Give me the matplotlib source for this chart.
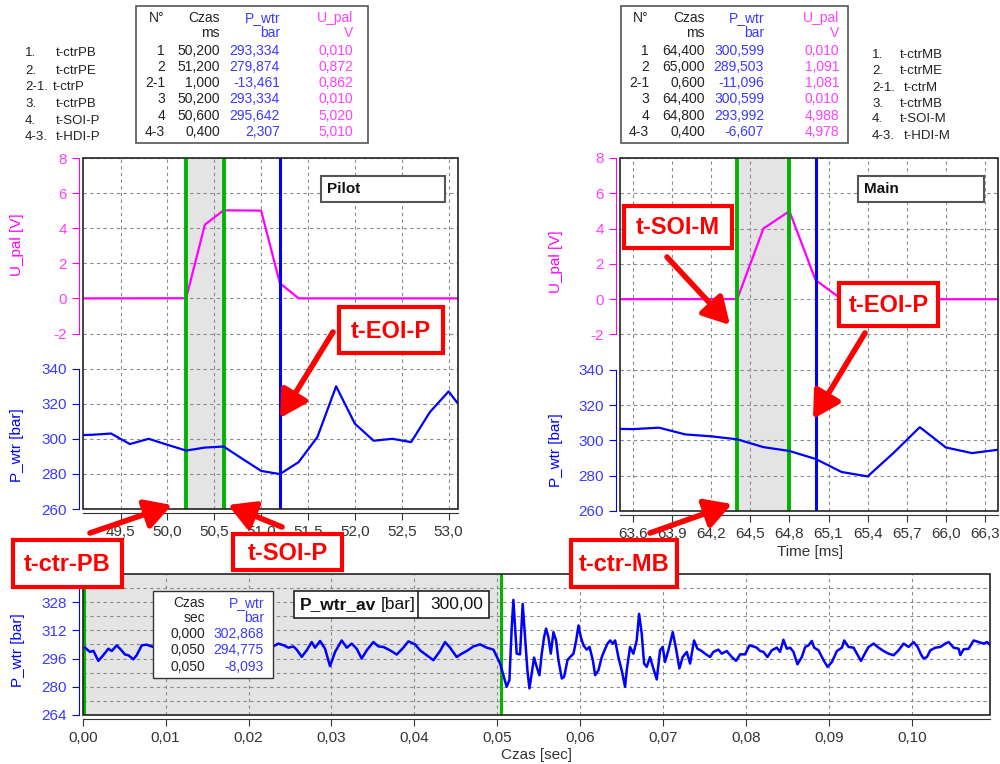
import matplotlib
matplotlib.use("Agg")
import matplotlib.pyplot as plt
from matplotlib.patches import Rectangle, FancyArrowPatch

plt.rcParams['font.family'] = ['Liberation Sans', 'DejaVu Sans']
plt.rcParams['axes.unicode_minus'] = False

# --- dane: Pilot ---
p_time_u = [49.1, 50.2, 50.4, 50.6, 51.0, 51.2, 51.4, 53.1]
p_u = [0.0, 0.01, 4.2, 5.02, 5.0, 0.87, 0.0, 0.0]
p_time_p = [49.0, 49.2, 49.4, 49.6, 49.8, 50.0, 50.2, 50.4, 50.6, 50.8, 51.0,
            51.2, 51.4, 51.6, 51.8, 52.0, 52.2, 52.4, 52.6, 52.8, 53.0, 53.2]
p_p = [302.0, 302.3, 303.0, 297.0, 300.0, 296.6, 293.3, 295.0, 295.6, 288.6, 281.7,
       279.9, 286.7, 301.0, 329.9, 308.6, 298.9, 300.0, 298.1, 315.2, 327.0, 313.0]
p_green = [50.2, 50.6]
p_blue = 51.2
p_xticks = [49.5, 50.0, 50.5, 51.0, 51.5, 52.0, 52.5, 53.0]

# --- dane: Main ---
m_time_u = [63.5, 64.4, 64.6, 64.8, 65.0, 65.2, 66.4]
m_u = [0.0, 0.01, 4.0, 4.99, 1.09, 0.0, 0.0]
m_time_p = [63.4, 63.6, 63.8, 64.0, 64.2, 64.4, 64.6, 64.8, 65.0, 65.2, 65.4,
            65.6, 65.8, 66.0, 66.2, 66.4]
m_p = [306.6, 306.4, 307.2, 303.4, 302.3, 300.6, 296.2, 294.0, 289.5, 282.1, 279.6,
       293.0, 307.5, 296.0, 292.8, 294.7]
m_green = [64.4, 64.8]
m_blue = 65.0
m_xticks = [63.6, 63.9, 64.2, 64.5, 64.8, 65.1, 65.4, 65.7, 66.0, 66.3]

# --- dane: przebieg cisnienia (sec, bar) ---
c_time = [0.00028, 0.00088, 0.00129, 0.00189, 0.00249, 0.00310, 0.00350, 0.00410,
          0.00450, 0.00511, 0.00551, 0.00611, 0.00651, 0.00712, 0.00772, 0.00832,
          0.0100, 0.0130, 0.0160, 0.0190, 0.0215,
          0.02300, 0.02360, 0.02421, 0.02481, 0.02541, 0.02581, 0.02642, 0.02702,
          0.02762, 0.02803, 0.02863, 0.02923, 0.02983, 0.03044, 0.03124, 0.03185,
          0.03245, 0.03305, 0.03365, 0.03426, 0.03506, 0.03566, 0.03627, 0.03707,
          0.03788, 0.03868, 0.03928, 0.04009, 0.04069, 0.04150, 0.04230, 0.04310,
          0.04371, 0.04431, 0.04511, 0.04572, 0.04632, 0.04712, 0.04793, 0.04873,
          0.04954, 0.05014,
          0.05034, 0.05074, 0.05114, 0.05147, 0.05175, 0.05195, 0.05215, 0.05235,
          0.05275, 0.05307, 0.05336, 0.05364, 0.05388, 0.05416, 0.05444, 0.05476,
          0.05509, 0.05537, 0.05565, 0.05589, 0.05617, 0.05646, 0.05678, 0.05710,
          0.05738, 0.05779, 0.05807, 0.05847, 0.05879, 0.05920, 0.05952, 0.05980,
          0.06008, 0.06040, 0.06080, 0.06113, 0.06153, 0.06181, 0.06221, 0.06261,
          0.06302, 0.06330, 0.06362, 0.06394, 0.06422, 0.06461, 0.06501, 0.06542,
          0.06562, 0.06602, 0.06642, 0.06682, 0.06711, 0.06743, 0.06771, 0.06803,
          0.06843, 0.06883, 0.06924, 0.06964, 0.06996, 0.07024, 0.07064, 0.07117,
          0.07157, 0.07197, 0.07237, 0.07286, 0.07326, 0.07374, 0.07414, 0.07454,
          0.07507, 0.07567, 0.07607, 0.07668, 0.07708, 0.07768, 0.07829, 0.07881,
          0.07929, 0.07989, 0.08042, 0.08090, 0.08130, 0.08171, 0.08211, 0.08259,
          0.08311, 0.08372, 0.08412, 0.08452, 0.08493, 0.08533, 0.08573, 0.08621,
          0.08674, 0.08714, 0.08754, 0.08794, 0.08823, 0.08875, 0.08936, 0.08984,
          0.09037, 0.09097, 0.09157, 0.09185, 0.09238, 0.09298, 0.09338, 0.09387,
          0.09439, 0.09479, 0.09540, 0.09600, 0.09660, 0.09721, 0.09781, 0.09841,
          0.09902, 0.09962, 0.10022, 0.10071, 0.10111, 0.10143, 0.10183, 0.10224,
          0.10284, 0.10344, 0.10404, 0.10445, 0.10505, 0.10565, 0.10586, 0.10626,
          0.10686, 0.10746, 0.10807, 0.10867, 0.10907, 0.10947]
c_p = [302.2, 299.8, 300.4, 294.7, 298.0, 301.6, 300.3, 303.5,
       301.6, 298.3, 297.9, 295.6, 297.9, 303.5, 303.9, 302.9,
       300.5, 302.0, 299.0, 302.5, 300.0,
       303.0, 304.5, 303.6, 302.2, 302.9, 301.1, 297.0, 300.7,
       305.4, 302.2, 306.0, 301.6, 291.7, 299.8, 306.3, 302.2,
       304.5, 301.6, 296.0, 300.7, 305.4, 302.9, 302.6, 300.7,
       298.3, 302.2, 305.8, 304.1, 300.7, 297.9, 295.1, 300.3,
       305.4, 302.2, 296.9, 298.8, 300.3, 302.9, 304.1, 302.2,
       301.1, 295.1,
       293.2, 286.6, 280.0, 283.8, 313.9, 329.3, 313.9, 298.8,
       298.4, 327.0, 308.2, 289.4, 279.1, 287.5, 296.6, 291.3,
       286.6, 298.8, 308.2, 313.0, 308.2, 298.8, 311.0, 306.3,
       295.1, 284.7, 285.7, 295.1, 296.9, 298.8, 306.3, 314.8,
       308.2, 303.5, 301.1, 302.6, 295.1, 286.6, 289.4, 296.9,
       301.6, 304.5, 306.3, 304.5, 306.3, 296.9, 289.4, 280.0,
       289.4, 302.6, 298.8, 306.3, 321.4, 310.1, 293.2, 291.3,
       296.9, 290.4, 284.2, 300.7, 302.6, 294.1, 300.7, 311.0,
       301.6, 290.4, 296.9, 299.8, 293.2, 306.3, 301.6, 300.7,
       298.8, 296.9, 299.8, 301.1, 298.8, 300.3, 296.9, 294.7,
       298.4, 298.4, 303.5, 302.9, 302.2, 300.3, 299.8, 296.9,
       300.7, 302.2, 299.8, 306.7, 301.6, 302.2, 299.8, 292.8,
       296.9, 302.6, 303.5, 306.0, 302.2, 300.7, 295.1, 291.3,
       294.1, 300.3, 302.2, 306.3, 302.6, 302.2, 298.8, 294.7,
       299.3, 302.6, 304.5, 302.2, 300.3, 298.8, 297.9, 300.7,
       304.5, 302.6, 305.4, 302.6, 298.4, 296.0, 296.9, 300.7,
       302.2, 302.6, 304.5, 305.4, 302.2, 301.6, 298.0, 301.3,
       301.6, 306.3, 305.4, 304.5, 305.4, 303.6]
c_green = [0.0002, 0.0505]
c_xticks = [0.00, 0.01, 0.02, 0.03, 0.04, 0.05, 0.06, 0.07, 0.08, 0.09, 0.10]
c_yticks = [264, 280, 296, 312, 328]

# --- tabele ---
tab_pilot = [["N°", "Czas", "P_wtr", "U_pal"], ["", "ms", "bar", "V"],
             ["1", "50,200", "293,334", "0,010"], ["2", "51,200", "279,874", "0,872"],
             ["2-1", "1,000", "-13,461", "0,862"], ["3", "50,200", "293,334", "0,010"],
             ["4", "50,600", "295,642", "5,020"], ["4-3", "0,400", "2,307", "5,010"]]
tab_main = [["N°", "Czas", "P_wtr", "U_pal"], ["", "ms", "bar", "V"],
            ["1", "64,400", "300,599", "0,010"], ["2", "65,000", "289,503", "1,091"],
            ["2-1", "0,600", "-11,096", "1,081"], ["3", "64,400", "300,599", "0,010"],
            ["4", "64,800", "293,992", "4,988"], ["4-3", "0,400", "-6,607", "4,978"]]
leg_pilot = [("1.", "t-ctrPB"), ("2.", "t-ctrPE"), ("2-1.", "t-ctrP"),
             ("3.", "t-ctrPB"), ("4.", "t-SOI-P"), ("4-3.", "t-HDI-P")]
leg_main = [("1.", "t-ctrMB"), ("2.", "t-ctrME"), ("2-1.", "t-ctrM"),
            ("3.", "t-ctrMB"), ("4.", "t-SOI-M"), ("4-3.", "t-HDI-M")]
tab_cisn = [["Czas", "P_wtr"], ["sec", "bar"], ["0,000", "302,868"],
            ["0,050", "294,775"], ["0,050", "-8,093"]]

MAG = '#ff00ff'
MAG_T = '#ff40ff'
BLUE = '#0000ff'
BLUE_T = '#3a3aff'
GREEN = '#00b400'
GRID = '#8a8a8a'
RED = '#ff0000'
W, H = 1000, 764

fig = plt.figure(figsize=(10, 7.64), dpi=100)


def fx(x):
    return x / W


def fy(y):
    return 1 - y / H


def prect(x0, y0, x1, y1, **kw):
    r = Rectangle((fx(x0), fy(y1)), (x1 - x0) / W, (y1 - y0) / H,
                  transform=fig.transFigure, **kw)
    fig.add_artist(r)


def ptext(x, y, s, **kw):
    fig.text(fx(x), fy(y), s, va='center', **kw)


def comma(v, n):
    return f"{v:.{n}f}".replace('.', ',')


def panel(rect, xlim, xticks, t_u, u, t_p, p, green, blue, lab_u, lab_p, xlab=None):
    ax = fig.add_axes(rect)
    ax.set_xlim(xlim)
    ax.set_ylim(-12, 8)
    ax.axvspan(green[0], green[1], color='#e4e4e4', zorder=0)
    for x in xticks:
        ax.axvline(x, color=GRID, lw=0.8, ls=(0, (3, 3)), zorder=1)
    for y in range(-12, 9, 2):
        ax.axhline(y, color=GRID, lw=0.8, ls=(0, (3, 3)), zorder=1)
    ax.plot(t_u, u, color=MAG, lw=1.6, zorder=3)
    for g in green:
        ax.axvline(g, color=GREEN, lw=2.8, zorder=4)
    ax.axvline(blue, color=BLUE, lw=2.2, zorder=4)

    ax.set_yticks([-2, 0, 2, 4, 6, 8])
    ax.tick_params(axis='y', colors=MAG, labelcolor=MAG_T, labelsize=11, length=5)
    ax.set_xticks(xticks, labels=[comma(v, 1) for v in xticks])
    ax.tick_params(axis='x', colors='#333333', labelcolor='#333333', labelsize=11, length=5)
    for s in ['top', 'right']:
        ax.spines[s].set_visible(False)
    ax.spines['left'].set_position(('outward', 3))
    ax.spines['left'].set_bounds(-2, 8)
    ax.spines['left'].set_color(MAG)
    ax.spines['bottom'].set_position(('outward', 3))
    ax.spines['bottom'].set_color('#333333')
    ax.set_ylabel('U_pal [V]', color=MAG, fontsize=11)
    ax.yaxis.set_label_coords(*lab_u)
    if xlab is not None:
        ax.set_xlabel('Time [ms]', fontsize=11, color='#333333')
        ax.xaxis.set_label_coords(*xlab)

    ax2 = ax.twinx()
    ax2.set_ylim(260, 460)
    ax2.plot(t_p, p, color=BLUE, lw=1.6, zorder=3)
    ax2.yaxis.tick_left()
    ax2.yaxis.set_label_position('left')
    for s in ['top', 'right', 'bottom']:
        ax2.spines[s].set_visible(False)
    ax2.spines['left'].set_visible(True)
    ax2.spines['left'].set_position(('outward', 3))
    ax2.spines['left'].set_bounds(260, 340)
    ax2.spines['left'].set_color(BLUE)
    ax2.set_yticks([260, 280, 300, 320, 340])
    ax2.tick_params(axis='y', colors=BLUE, labelcolor=BLUE_T, labelsize=11, length=5)
    ax2.set_ylabel('P_wtr [bar]', color=BLUE, fontsize=11)
    ax2.yaxis.set_label_coords(*lab_p)
    ax2.add_patch(Rectangle((0, 0), 1, 1, transform=ax2.transAxes, fill=False,
                            ec='#222222', lw=1.2, zorder=10, clip_on=False))
    return ax, ax2


panel([fx(83), fy(509), 375 / W, 351 / H], (49.1, 53.1), p_xticks,
      p_time_u, p_u, p_time_p, p_p, p_green, p_blue,
      (-0.157, 0.752), (-0.157, 0.182))
panel([fx(620), fy(511), 378 / W, 353 / H], (63.5, 66.4), m_xticks,
      m_time_u, m_u, m_time_p, m_p, m_green, m_blue,
      (-0.151, 0.705), (-0.151, 0.173), (0.503, -0.096))

# --- dolny wykres ---
ax = fig.add_axes([fx(82.7), fy(715), 907 / W, 141 / H])
ax.set_xlim(0, 0.1094)
ax.set_ylim(264, 344)
ax.axvspan(0, c_green[1], color='#e4e4e4', zorder=0)
for x in c_xticks[1:]:
    ax.axvline(x, color=GRID, lw=0.8, ls=(0, (3, 3)), zorder=1)
for y in range(272, 344, 8):
    ax.axhline(y, color=GRID, lw=0.8, ls=(0, (3, 3)), zorder=1)
for g in c_green:
    ax.axvline(g, color=GREEN, lw=2.2, zorder=2)
ax.plot(c_time, c_p, color=BLUE, lw=1.8, zorder=3)
ax.set_xticks(c_xticks, labels=[comma(v, 2) for v in c_xticks])
ax.set_yticks(c_yticks)
ax.tick_params(axis='x', colors='#333333', labelsize=11, length=5)
ax.tick_params(axis='y', colors=BLUE, labelcolor=BLUE_T, labelsize=11, length=5)
for s in ['top', 'right']:
    ax.spines[s].set_visible(False)
ax.spines['left'].set_position(('outward', 3))
ax.spines['left'].set_color(BLUE)
ax.spines['bottom'].set_position(('outward', 3))
ax.spines['bottom'].set_color('#333333')
ax.set_ylabel('P_wtr [bar]', color=BLUE, fontsize=11)
ax.yaxis.set_label_coords(-0.0636, 0.46)
ax.set_xlabel('Czas [sec]', fontsize=11, color='#333333')
ax.xaxis.set_label_coords(0.5, -0.234)
ax.add_patch(Rectangle((0, 0), 1, 1, transform=ax.transAxes, fill=False,
                       ec='#222222', lw=1.2, zorder=10, clip_on=False))

# --- tabele u gory ---
rows_y = [18, 33, 51, 67, 83, 99, 116, 132]
col_c = ['#222222', '#222222', BLUE_T, MAG_T]


def table(box, cols, data):
    prect(*box, fill=False, ec='#555555', lw=1.2)
    for r, row in enumerate(data):
        for c, s in enumerate(row):
            ptext(cols[c], rows_y[r], s, ha='right', fontsize=10, color=col_c[c])


table((136, 6, 368, 143), [165, 220, 280, 353], tab_pilot)
table((621, 6, 848, 143), [649, 705, 764, 839], tab_main)

leg_y_p = [53, 71, 87, 104, 121, 137]
leg_x_p = [56, 56, 53, 56, 56, 56]
for (n, s), y, x in zip(leg_pilot, leg_y_p, leg_x_p):
    ptext(25, y, n, fontsize=9.5, color='#222222')
    ptext(x, y, s, fontsize=9.5, color='#222222')
leg_y_m = [55, 71, 88, 104, 119, 136]
leg_x_m = [900, 900, 904, 900, 900, 904]
for (n, s), y, x in zip(leg_main, leg_y_m, leg_x_m):
    ptext(872, y, n, fontsize=9.5, color='#222222')
    ptext(x, y, s, fontsize=9.5, color='#222222')

# --- Pilot / Main ---
prect(321, 176, 445, 202, fc='white', ec='#555555', lw=1.5, zorder=5)
ptext(327, 189, 'Pilot', fontsize=11, weight='bold', color='#111111', zorder=6)
prect(858, 176, 984, 202, fc='white', ec='#555555', lw=1.5, zorder=5)
ptext(864, 189, 'Main', fontsize=11, weight='bold', color='#111111', zorder=6)

# --- tabela w dolnym wykresie ---
prect(153, 591, 273, 678, fc='white', ec='#333333', lw=1.0, zorder=5)
for r, (a, b) in enumerate(tab_cisn):
    y = [602.7, 618, 634, 650, 666.7][r]
    ptext(205, y, a, ha='right', fontsize=10, color='#222222', zorder=6)
    ptext(264, y, b, ha='right', fontsize=10, color=BLUE_T, zorder=6)

prect(294, 591, 489, 618, fc='white', ec='#222222', lw=1.2, zorder=5)
fig.add_artist(plt.Line2D([fx(418), fx(418)], [fy(591), fy(618)], color='#222222',
                          lw=1.2, transform=fig.transFigure, zorder=6))
ptext(300, 604.5, 'P_wtr_av', fontsize=12.5, weight='bold', color='#111111', zorder=6)
ptext(381, 604.5, '[bar]', fontsize=12.5, color='#111111', zorder=6)
ptext(483, 604.5, '300,00', ha='right', fontsize=12.5, color='#111111', zorder=6)

# --- czerwone opisy ze strzalkami ---
callouts = [
    ('t-EOI-P', (339, 307, 443, 353), (333, 332), (280, 418)),
    ('t-ctr-PB', (13, 540, 122, 587), (90, 533), (172, 505)),
    ('t-SOI-P', (233, 534, 342, 570), (282, 527), (228, 505)),
    ('t-SOI-M', (624, 206, 732, 248), (667, 257), (730, 325)),
    ('t-EOI-P', (839, 283, 938, 326), (865, 333), (813, 419)),
    ('t-ctr-MB', (571, 540, 677, 587), (650, 533), (732, 504)),
]
for txt, box, tail, tip in callouts:
    arr = FancyArrowPatch((fx(tail[0]), fy(tail[1])), (fx(tip[0]), fy(tip[1])),
                          transform=fig.transFigure, arrowstyle='-|>,head_length=0.8,head_width=0.45',
                          mutation_scale=20, lw=4, color=RED, shrinkA=0, shrinkB=0, zorder=7)
    fig.add_artist(arr)
    prect(*box, fc='white', ec=RED, lw=3, zorder=8)
    ptext((box[0] + box[2]) / 2, (box[1] + box[3]) / 2 + 1, txt, ha='center',
          fontsize=17, weight='bold', color=RED, zorder=9)

fig.savefig('out.png', dpi=100)
